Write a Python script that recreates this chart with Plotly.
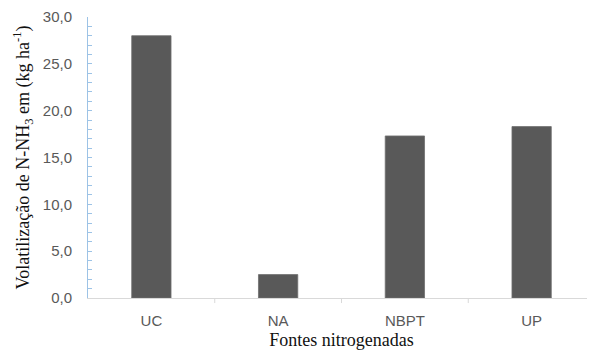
import plotly.graph_objects as go

categories = ["UC", "NA", "NBPT", "UP"]
values = [28.0, 2.5, 17.3, 18.3]

fig = go.Figure()
fig.add_trace(go.Bar(
    x=categories, y=values,
    marker=dict(color="#595959", line=dict(color="#6e6e6e", width=0.8)),
    width=0.31,
))

# page body has an 8px default margin, so the figure is drawn at (8, 8)
fig.update_layout(
    width=587, height=345,
    margin=dict(l=80, r=0, t=9, b=55, autoexpand=False),
    paper_bgcolor="white", plot_bgcolor="white",
    separators=",.",
    showlegend=False,
    font=dict(family="Liberation Sans, Arial", color="#595959"),
    xaxis=dict(
        type="category", range=[-0.5, 3.5], automargin=False,
        showline=True, linecolor="#d9d9d9", linewidth=1,
        ticks="", showgrid=False,
        tickfont=dict(size=15, color="#595959"),
        ticklabelstandoff=9,
        title=dict(text="Fontes nitrogenadas",
                   font=dict(family="Liberation Serif, Times New Roman", size=18, color="#111111"),
                   standoff=5),
        zeroline=False,
    ),
    yaxis=dict(
        range=[0, 30], dtick=5, tickformat=".1f", automargin=False,
        showline=True, linecolor="#9dc3e6", linewidth=1,
        ticks="inside", ticklen=4, tickcolor="#9dc3e6",
        minor=dict(ticks="inside", dtick=1, ticklen=4, tickcolor="#9dc3e6"),
        showgrid=False, zeroline=False,
        tickfont=dict(size=15, color="#595959"),
        ticklabelstandoff=12,
        title=dict(text="Volatilização de N-NH<sub>3</sub> em (kg ha<sup>-1</sup>)",
                   font=dict(family="Liberation Serif, Times New Roman", size=18, color="#111111"),
                   standoff=8),
    ),
)

for i in range(1, 4):
    fig.add_shape(type="line", xref="x", yref="paper",
                  x0=i - 0.5, x1=i - 0.5, y0=0, y1=-0.018,
                  line=dict(color="#d9d9d9", width=1))

fig.write_html("out.html")
